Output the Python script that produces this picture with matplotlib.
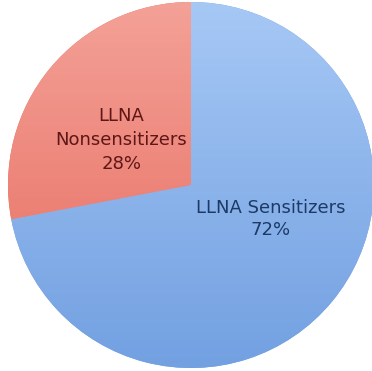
import numpy as np
import matplotlib
matplotlib.use('Agg')
import matplotlib.pyplot as plt
from matplotlib.colors import LinearSegmentedColormap

labels = ['LLNA Sensitizers\n72%', 'LLNA\nNonsensitizers\n28%']
shares = [72, 28]
top_colors = ['#a6c8f5', '#f4a197']
bottom_colors = ['#72a0e1', '#e6695d']
text_colors = ['#1d3a66', '#5e1616']

fig = plt.figure(figsize=(3.72, 3.71), dpi=100)
ax = fig.add_axes([8 / 372, 3 / 371, 366 / 372, 366 / 371])

# blue wedge starts after the red one, both counterclockwise from 12 o'clock
wedges, _ = ax.pie(shares[::-1], startangle=90, counterclock=True,
                   colors=bottom_colors[::-1], radius=1,
                   wedgeprops=dict(linewidth=0))
wedges = wedges[::-1]

grad = np.linspace(1, 0, 256).reshape(-1, 1)
for w, c_top, c_bot in zip(wedges, top_colors, bottom_colors):
    cmap = LinearSegmentedColormap.from_list('g', [c_bot, c_top])
    im = ax.imshow(grad, cmap=cmap, extent=(-1, 1, -1, 1), aspect='auto',
                   origin='upper', zorder=1, vmin=0, vmax=1)
    im.set_clip_path(w)
    w.set_zorder(0.5)

ax.text(0.437, -0.185, labels[0], ha='center', va='center', fontsize=13,
        color=text_colors[0], linespacing=1.25, zorder=3)
ax.text(-0.38, 0.245, labels[1], ha='center', va='center', fontsize=13,
        color=text_colors[1], linespacing=1.45, zorder=3)

ax.set_xlim(-1, 1)
ax.set_ylim(-1, 1)
ax.set_aspect('equal')
ax.axis('off')

fig.savefig('out.png', dpi=100)
